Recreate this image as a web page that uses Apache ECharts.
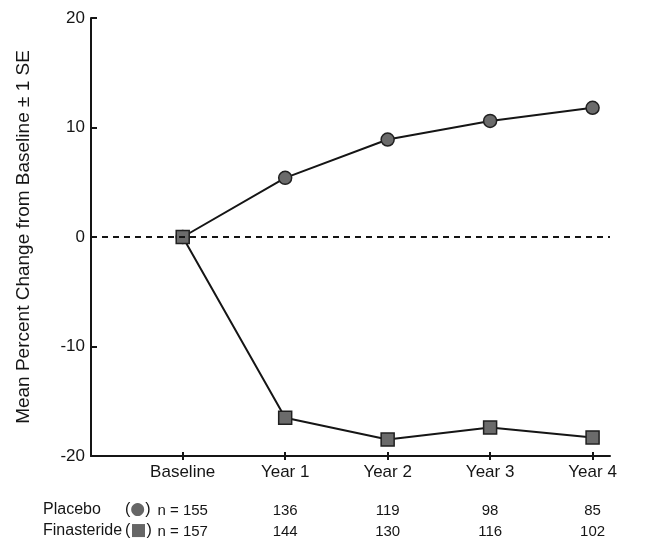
<!DOCTYPE html>
<html>
<head>
<meta charset="utf-8">
<script src="https://cdn.jsdelivr.net/npm/echarts@6/dist/echarts.min.js"></script>
<style>
html,body{margin:0;padding:0;background:#fff;}
#chart{width:647px;height:557px;}
</style>
</head>
<body>
<div id="chart"></div>
<script>
// ---- data ----
const categories = ['Baseline', 'Year 1', 'Year 2', 'Year 3', 'Year 4'];
const placebo = [0, 5.4, 8.9, 10.6, 11.8];
const finasteride = [0, -16.5, -18.5, -17.4, -18.3];
const placeboN = [155, 136, 119, 98, 85];
const finasterideN = [157, 144, 130, 116, 102];
const yTicks = [-20, -10, 0, 10, 20];
const yTitle = 'Mean Percent Change from Baseline \u00b1 1 SE';

const FONT = '"Liberation Sans", Arial, Helvetica, sans-serif';
const INK = '#151515';

const chart = echarts.init(document.getElementById('chart'), null, {renderer: 'canvas'});
const idx = categories.map((_, i) => i);

const option = {
  backgroundColor: '#ffffff',
  animation: false,
  grid: {left: 91, right: 37, top: 18, bottom: 101, containLabel: false},
  xAxis: [{
    type: 'value',
    min: -0.895,
    max: 4.17,
    axisLine: {show: true, onZero: false, lineStyle: {color: INK, width: 2}},
    axisTick: {show: true, inside: false, length: 4, customValues: idx, lineStyle: {color: INK, width: 2}},
    splitLine: {show: false},
    axisLabel: {
      show: true,
      customValues: idx,
      margin: 6,
      fontFamily: FONT,
      color: INK,
      formatter: function (v) {
        const i = Math.round(v);
        const nPrefix = i === 0 ? 'n = ' : '';
        return '{cat|' + categories[i] + '}\n{gap|}\n{n|' + nPrefix + placeboN[i] + '}\n{n|' + nPrefix + finasterideN[i] + '}';
      },
      rich: {
        cat: {fontSize: 17, lineHeight: 20, fontFamily: FONT, color: INK},
        gap: {fontSize: 10, lineHeight: 18},
        n: {fontSize: 15, lineHeight: 21, fontFamily: FONT, color: INK}
      }
    }
  }, {
    type: 'value',
    position: 'bottom',
    min: -0.895,
    max: 4.17,
    axisLine: {show: false, onZero: false},
    axisTick: {show: true, inside: true, length: 4, customValues: idx, lineStyle: {color: INK, width: 2}},
    axisLabel: {show: false},
    splitLine: {show: false}
  }],
  yAxis: {
    type: 'value',
    min: -20,
    max: 20,
    interval: 10,
    name: yTitle,
    nameLocation: 'middle',
    nameRotate: 90,
    nameGap: 58,
    nameTextStyle: {fontFamily: FONT, fontSize: 19, color: INK},
    axisLine: {show: true, onZero: false, lineStyle: {color: INK, width: 2}},
    axisTick: {show: true, inside: true, length: 6, lineStyle: {color: INK, width: 2}},
    axisLabel: {fontFamily: FONT, fontSize: 17, color: INK, margin: 6,
      formatter: v => yTicks.includes(v) ? String(v) : ''},
    splitLine: {show: false}
  },
  series: [{
    name: 'Placebo',
    type: 'line',
    data: placebo.map((v, i) => [i, v]),
    symbol: 'circle',
    symbolSize: 13,
    lineStyle: {color: INK, width: 2},
    itemStyle: {color: '#6b6b6b', borderColor: '#202020', borderWidth: 1.5},
    z: 3,
    markLine: {
      silent: true,
      symbol: 'none',
      label: {show: false},
      lineStyle: {color: INK, width: 2, type: [6, 5]},
      data: [{yAxis: 0}]
    }
  }, {
    name: 'Finasteride',
    type: 'line',
    data: finasteride.map((v, i) => [i, v]),
    symbol: 'rect',
    symbolSize: 13,
    lineStyle: {color: INK, width: 2},
    itemStyle: {color: '#6b6b6b', borderColor: '#202020', borderWidth: 1.5},
    z: 4
  }],
  graphic: [
    {type: 'text', left: 43, top: 502, style: {text: 'Placebo', font: '16px ' + FONT, fill: INK}},
    {type: 'text', left: 125, top: 501, style: {
      text: '{p|(}{c|\u25cf}{p|)}',
      rich: {p: {font: '16px ' + FONT, fill: INK}, c: {font: '17px "DejaVu Sans"', fill: '#666666'}}
    }},
    {type: 'text', left: 43, top: 523, style: {text: 'Finasteride', font: '16px ' + FONT, fill: INK}},
    {type: 'text', left: 125, top: 522, style: {
      text: '{p|(}{c|\u25a0}{p|)}',
      rich: {p: {font: '16px ' + FONT, fill: INK}, c: {font: '17px "DejaVu Sans"', fill: '#666666'}}
    }}
  ]
};
chart.setOption(option);
</script>
</body>
</html>
